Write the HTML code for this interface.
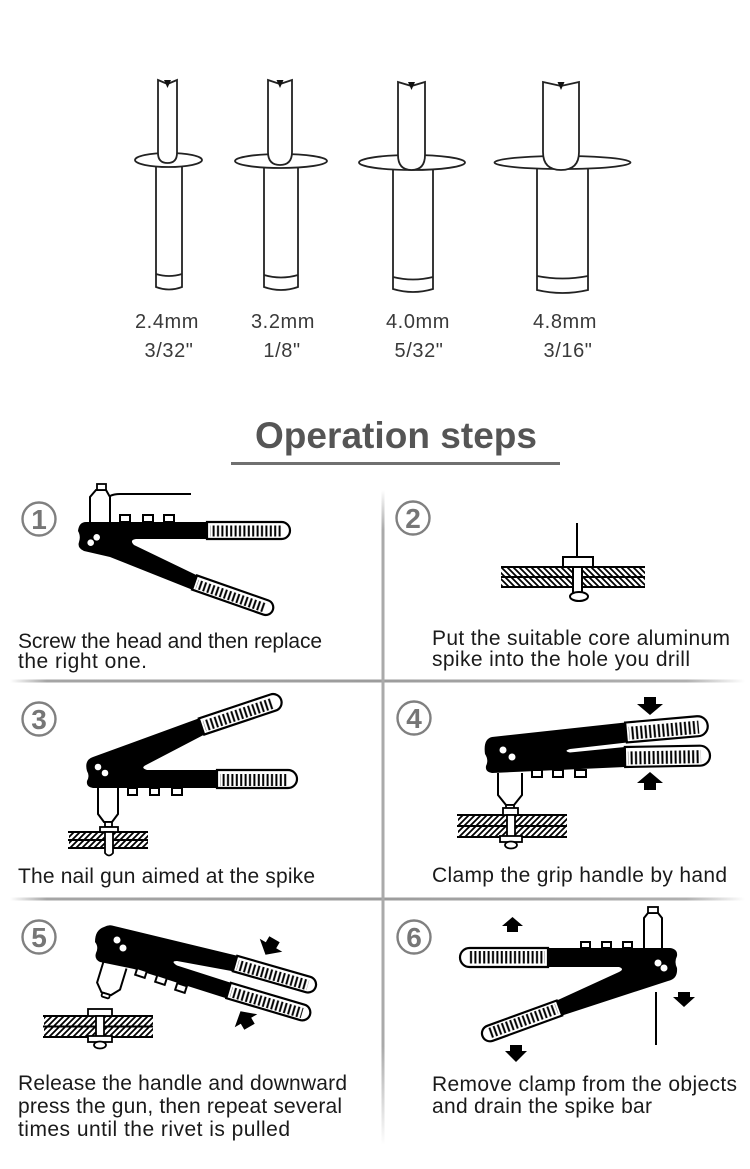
<!DOCTYPE html>
<html>
<head>
<meta charset="utf-8">
<style>
html,body{margin:0;padding:0;background:#fff;}
svg{display:block;}
.t{font-family:"Liberation Sans",Arial,sans-serif;font-size:21px;fill:#1a1a1a;}
.lab{font-family:"Liberation Sans",Arial,sans-serif;font-size:20px;fill:#3a3a3a;letter-spacing:0.6px;}
.num{font-family:"Liberation Sans",Arial,sans-serif;font-size:28px;font-weight:bold;fill:#767676;}
</style>
</head>
<body>
<svg width="750" height="1169" viewBox="0 0 750 1169" xmlns="http://www.w3.org/2000/svg">
<defs>
  <pattern id="vh" patternUnits="userSpaceOnUse" width="4.4" height="40">
    <rect x="1.2" y="0" width="2" height="40" fill="#000"/>
  </pattern>
  <pattern id="fw" patternUnits="userSpaceOnUse" width="6" height="6">
    <path d="M-1,1 L1,-1 M0,6 L6,0 M5,7 L7,5" stroke="#000" stroke-width="1.8"/>
  </pattern>
  <pattern id="bw" patternUnits="userSpaceOnUse" width="6" height="6">
    <path d="M-1,5 L1,7 M0,0 L6,6 M5,-1 L7,1" stroke="#000" stroke-width="1.8"/>
  </pattern>
  <linearGradient id="hg" x1="0" y1="0" x2="1" y2="0">
    <stop offset="0" stop-color="#fff"/>
    <stop offset="0.05" stop-color="#a5a5a5"/>
    <stop offset="0.5" stop-color="#9c9c9c"/>
    <stop offset="0.92" stop-color="#b0b0b0"/>
    <stop offset="1" stop-color="#fff"/>
  </linearGradient>
  <linearGradient id="vg" x1="0" y1="0" x2="0" y2="1">
    <stop offset="0" stop-color="#fff"/>
    <stop offset="0.06" stop-color="#aaa"/>
    <stop offset="0.85" stop-color="#aaa"/>
    <stop offset="1" stop-color="#fff"/>
  </linearGradient>
</defs>

<!-- ===== RIVETS ===== -->
<g stroke="#222" stroke-width="1.8" fill="#fff">
  <path d="M156,167 V287 Q169,292 182,287 V167"/>
  <path d="M156,274 Q169,278 182,274" fill="none"/>
  <ellipse cx="168.5" cy="160" rx="33.5" ry="7"/>
  <path d="M158,80 L167.5,84 L177,80 V153 Q177,163 167.5,163 Q158,163 158,153 Z"/>
  <path d="M264,168 V287 Q281,293 298,287 V168"/>
  <path d="M264,275 Q281,280 298,275" fill="none"/>
  <ellipse cx="281" cy="161" rx="46" ry="7"/>
  <path d="M268,80 L280,84 L292,80 V152 Q292,165 280,165 Q268,165 268,152 Z"/>
  <path d="M393,170 V289 Q413,295 433,289 V170"/>
  <path d="M393,277 Q413,282 433,277" fill="none"/>
  <ellipse cx="412" cy="162.5" rx="53" ry="7.5"/>
  <path d="M398,82 L411.5,86 L425,82 V155 Q425,170 411.5,170 Q398,170 398,155 Z"/>
  <path d="M537,169 V290 Q562.5,296 588,290 V169"/>
  <path d="M537,276 Q562.5,281 588,276" fill="none"/>
  <ellipse cx="562.5" cy="162.5" rx="68" ry="6.5"/>
  <path d="M543,82 L561,86 L579,82 V152 Q579,170 561,170 Q543,170 543,152 Z"/>
</g>
<g fill="#111">
  <path d="M164,80 L171,80 L167.5,88 Z"/>
  <path d="M276.5,80 L283.5,80 L280,88 Z"/>
  <path d="M408,82 L415,82 L411.5,90 Z"/>
  <path d="M557.5,82 L564.5,82 L561,90 Z"/>
</g>
<g class="lab" text-anchor="middle">
  <text x="167" y="328">2.4mm</text><text x="169" y="357">3/32"</text>
  <text x="283" y="328">3.2mm</text><text x="282" y="357">1/8"</text>
  <text x="418" y="328">4.0mm</text><text x="419" y="357">5/32"</text>
  <text x="565" y="328">4.8mm</text><text x="568" y="357">3/16"</text>
</g>

<!-- ===== TITLE ===== -->
<text x="255" y="448" font-family="Liberation Sans, Arial, sans-serif" font-size="37" font-weight="bold" fill="#555" textLength="282">Operation steps</text>
<rect x="231" y="462" width="329" height="3" fill="#707070"/>

<!-- ===== DIVIDERS ===== -->
<rect x="10" y="679.5" width="735" height="3" fill="url(#hg)"/>
<rect x="10" y="897.5" width="735" height="3" fill="url(#hg)"/>
<rect x="381.5" y="490" width="3" height="655" fill="url(#vg)"/>

<!-- ===== CIRCLED NUMBERS ===== -->
<g fill="none" stroke="#808080" stroke-width="2.4">
  <circle cx="39" cy="519" r="16.5"/>
  <circle cx="413" cy="518" r="16.5"/>
  <circle cx="39" cy="719" r="16.5"/>
  <circle cx="414" cy="718" r="16.5"/>
  <circle cx="39" cy="937" r="16.5"/>
  <circle cx="414" cy="937" r="16.5"/>
</g>
<g class="num" text-anchor="middle">
  <text x="39" y="529">1</text>
  <text x="413" y="528">2</text>
  <text x="39" y="729">3</text>
  <text x="414" y="728">4</text>
  <text x="39" y="947">5</text>
  <text x="414" y="947">6</text>
</g>

<!-- ===== STEP 1 ===== -->
<path d="M110,496 Q114,494 120,494 H191" fill="none" stroke="#000" stroke-width="2"/>
<path d="M90,522 V497 L96,490 H106 L110,497 V522" fill="#fff" stroke="#000" stroke-width="2"/>
<rect x="97" y="484" width="9" height="6" fill="#fff" stroke="#000" stroke-width="1.8"/>
<path d="M86,522 L207,522 L207,539 L136,539 Q129,540 134,545 L197,575.4 L192,589.6 L110,557 L84,551 Q77,548 79,542 Q81,536 78,531 Q79,522 86,522 Z" fill="#000"/>
<g fill="#fff" stroke="#000" stroke-width="2">
  <rect x="120" y="515" width="10" height="7"/>
  <rect x="143" y="515" width="10" height="7"/>
  <rect x="164" y="515" width="10" height="7"/>
</g>
<circle cx="96.7" cy="537.3" r="3.3" fill="#fff"/>
<circle cx="90.7" cy="542.7" r="3.3" fill="#fff"/>
<g transform="translate(207,530.5)">
  <path d="M0,-8.5 H74.5 A8.5,8.5 0 0 1 74.5,8.5 H0 Z" fill="#fff" stroke="#000" stroke-width="2.2"/>
  <rect x="3" y="-5" width="72" height="11" fill="url(#vh)"/>
</g>
<g transform="translate(194.5,582.5) rotate(19.3)">
  <path d="M0,-7.5 H75.5 A7.5,7.5 0 0 1 75.5,7.5 H0 Z" fill="#fff" stroke="#000" stroke-width="2.2"/>
  <rect x="3" y="-4" width="72" height="9.5" fill="url(#vh)"/>
</g>
<text class="t" x="18" y="648" textLength="304">Screw the head and then replace</text>
<text class="t" x="18" y="668" textLength="129">the right one.</text>

<!-- ===== STEP 2 ===== -->
<line x1="577" y1="523" x2="577" y2="557" stroke="#000" stroke-width="2"/>
<rect x="501" y="568" width="144" height="18" fill="url(#bw)"/>
<g stroke="#000" stroke-width="2">
  <line x1="501" y1="567" x2="645" y2="567"/>
  <line x1="501" y1="577" x2="645" y2="577"/>
  <line x1="501" y1="587" x2="645" y2="587"/>
</g>
<rect x="563" y="557" width="30" height="10" fill="#fff" stroke="#000" stroke-width="2"/>
<rect x="573" y="567" width="9" height="26" fill="#fff" stroke="#000" stroke-width="2"/>
<ellipse cx="579" cy="596.5" rx="9" ry="4.5" fill="#fff" stroke="#000" stroke-width="2"/>
<text class="t" x="432" y="645" textLength="298">Put the suitable core aluminum</text>
<text class="t" x="432" y="666" textLength="258">spike into the hole you drill</text>

<!-- ===== STEP 3 ===== -->
<path d="M93,757 L198.8,718.4 L204.2,734.6 L146,765 Q140,768 147,770 L217,770 L217,788 L93,788 Q86,787 87,781 Q90,776 87,771 Q84,760 93,757 Z" fill="#000"/>
<g fill="#fff" stroke="#000" stroke-width="2">
  <rect x="128" y="788" width="9" height="7"/>
  <rect x="150" y="788" width="9" height="7"/>
  <rect x="172" y="788" width="10" height="7"/>
</g>
<circle cx="98" cy="767" r="3.3" fill="#fff"/>
<circle cx="105" cy="773" r="3.3" fill="#fff"/>
<g transform="translate(201.5,726.5) rotate(-18.5)">
  <path d="M0,-8.5 H75.5 A8.5,8.5 0 0 1 75.5,8.5 H0 Z" fill="#fff" stroke="#000" stroke-width="2.2"/>
  <rect x="3" y="-5" width="72" height="11" fill="url(#vh)"/>
</g>
<g transform="translate(217,779)">
  <path d="M0,-9 H71 A9,9 0 0 1 71,9 H0 Z" fill="#fff" stroke="#000" stroke-width="2.2"/>
  <rect x="3" y="-5" width="68" height="12" fill="url(#vh)"/>
</g>
<path d="M98,788 V814 L104,822 H112 L118,814 V788" fill="#fff" stroke="#000" stroke-width="2"/>
<rect x="105" y="822" width="7" height="5" fill="#fff" stroke="#000" stroke-width="1.8"/>
<rect x="69" y="833" width="79" height="14" fill="url(#fw)"/>
<g stroke="#000" stroke-width="2">
  <line x1="68" y1="832" x2="148" y2="832"/>
  <line x1="68" y1="840" x2="148" y2="840"/>
  <line x1="68" y1="848" x2="148" y2="848"/>
</g>
<rect x="100" y="827" width="18" height="5" fill="#fff" stroke="#000" stroke-width="1.8"/>
<path d="M105,832 V853 Q109,858 113,853 V832 Z" fill="#fff" stroke="#000" stroke-width="1.8"/>
<text class="t" x="18" y="883" textLength="297">The nail gun aimed at the spike</text>

<!-- ===== STEP 4 ===== -->
<path d="M492,737 L625.1,722.5 L626.9,742.5 L570,749 Q563,751 570,752.5 L624.8,747 L625.2,767 L492,773 Q485,772 486,766 Q489,760 485,754 Q483,739 492,737 Z" fill="#000"/>
<g fill="#fff" stroke="#000" stroke-width="2">
  <rect x="532" y="770" width="10" height="7"/>
  <rect x="553" y="770" width="10" height="7"/>
  <rect x="575" y="770" width="11" height="7"/>
</g>
<circle cx="503" cy="750" r="3.5" fill="#fff"/>
<circle cx="512" cy="757" r="3.5" fill="#fff"/>
<g transform="translate(626,732.5) rotate(-5)">
  <path d="M0,-10 H72 A10,10 0 0 1 72,10 H0 Z" fill="#fff" stroke="#000" stroke-width="2.2"/>
  <rect x="3" y="-5.5" width="70" height="13" fill="url(#vh)"/>
</g>
<g transform="translate(625,757) rotate(-1)">
  <path d="M0,-10 H75 A10,10 0 0 1 75,10 H0 Z" fill="#fff" stroke="#000" stroke-width="2.2"/>
  <rect x="3" y="-5.5" width="73" height="13" fill="url(#vh)"/>
</g>
<path d="M498,773 V795 L506,805 H514 L522,795 V773" fill="#fff" stroke="#000" stroke-width="2"/>
<rect x="506" y="805" width="8" height="4" fill="#fff" stroke="#000" stroke-width="1.8"/>
<rect x="458" y="816" width="109" height="20" fill="url(#fw)"/>
<g stroke="#000" stroke-width="2">
  <line x1="457" y1="815" x2="567" y2="815"/>
  <line x1="457" y1="826" x2="567" y2="826"/>
  <line x1="457" y1="837" x2="567" y2="837"/>
</g>
<rect x="503" y="808" width="15" height="7" fill="#fff" stroke="#000" stroke-width="1.8"/>
<rect x="507" y="815" width="8" height="22" fill="#fff" stroke="#000" stroke-width="1.8"/>
<rect x="500" y="836" width="22" height="6" fill="#fff" stroke="#000" stroke-width="1.8"/>
<ellipse cx="511" cy="845" rx="6" ry="3.5" fill="#fff" stroke="#000" stroke-width="1.8"/>
<polygon points="644,697 656,697 656,704 663,704 650,715 637,704 644,704" fill="#000"/>
<polygon points="650,772 663,783 656,783 656,790 644,790 644,783 637,783" fill="#000"/>
<text class="t" x="432" y="882" textLength="295">Clamp the grip handle by hand</text>

<!-- ===== STEP 5 ===== -->
<g transform="translate(115,965) rotate(17)">
  <path d="M-12,0 V22 L-5,30 H5 L12,22 V0" fill="#fff" stroke="#000" stroke-width="2"/>
  <rect x="-4" y="30" width="8" height="4" rx="1.5" fill="#fff" stroke="#000" stroke-width="1.8"/>
</g>
<path d="M104,927 Q109,924 114,926 L237.2,955.8 L232.8,971.2 L177,961 Q170,961 177,965.5 L230.8,982.8 L226.2,998.2 L134,969 L100,962 Q94,959 96,953 Q99,947 95,942 Q95,930 104,927 Z" fill="#000"/>
<g fill="#fff" stroke="#000" stroke-width="2">
  <rect x="136" y="969.5" width="10" height="7" transform="rotate(18 141 973)"/>
  <rect x="156" y="976.5" width="10" height="7" transform="rotate(18 161 980)"/>
  <rect x="176" y="984.5" width="10" height="7" transform="rotate(18 181 988)"/>
</g>
<circle cx="117" cy="940" r="3.5" fill="#fff"/>
<circle cx="123" cy="948" r="3.5" fill="#fff"/>
<g transform="translate(235,963.5) rotate(16)">
  <path d="M0,-8 H76 A8,8 0 0 1 76,8 H0 Z" fill="#fff" stroke="#000" stroke-width="2.2"/>
  <rect x="3" y="-4.5" width="73" height="10.5" fill="url(#vh)"/>
</g>
<g transform="translate(228.5,990.5) rotate(16.5)">
  <path d="M0,-8 H77 A8,8 0 0 1 77,8 H0 Z" fill="#fff" stroke="#000" stroke-width="2.2"/>
  <rect x="3" y="-4.5" width="74" height="10.5" fill="url(#vh)"/>
</g>
<rect x="44" y="1017" width="109" height="19" fill="url(#fw)"/>
<g stroke="#000" stroke-width="2">
  <line x1="43" y1="1016" x2="153" y2="1016"/>
  <line x1="43" y1="1026.5" x2="153" y2="1026.5"/>
  <line x1="43" y1="1037" x2="153" y2="1037"/>
</g>
<rect x="88" y="1009" width="24" height="7" fill="#fff" stroke="#000" stroke-width="1.8"/>
<rect x="96" y="1016" width="8" height="21" fill="#fff" stroke="#000" stroke-width="1.8"/>
<rect x="88" y="1036" width="24" height="6" fill="#fff" stroke="#000" stroke-width="1.8"/>
<ellipse cx="100" cy="1045" rx="6" ry="3.5" fill="#fff" stroke="#000" stroke-width="1.8"/>
<polygon transform="translate(270,947) rotate(30)" points="-6,-9 6,-9 6,-2 13,-2 0,9 -13,-2 -6,-2" fill="#000"/>
<polygon transform="translate(245,1019) rotate(-30)" points="0,-9 13,2 6,2 6,9 -6,9 -6,2 -13,2" fill="#000"/>
<text class="t" x="18" y="1090" textLength="329">Release the handle and downward</text>
<text class="t" x="18" y="1113" textLength="324">press the gun, then repeat several</text>
<text class="t" x="18" y="1136" textLength="272">times until the rivet is pulled</text>

<!-- ===== STEP 6 ===== -->
<path d="M644,948 V918 L648,913 H658 L662,918 V948" fill="#fff" stroke="#000" stroke-width="2"/>
<rect x="648" y="907" width="10" height="6" fill="#fff" stroke="#000" stroke-width="1.8"/>
<path d="M548,948 L670,948 Q678,949 677,956 Q674,962 677,968 Q678,979 668,981 L562.2,1015.5 L556.8,1000.5 L619,972 Q625,969 619,967 L548,967 Z" fill="#000"/>
<g fill="#fff" stroke="#000" stroke-width="2">
  <rect x="581" y="942" width="9" height="6"/>
  <rect x="602" y="942" width="9" height="6"/>
  <rect x="623" y="942" width="9" height="6"/>
</g>
<circle cx="658" cy="963" r="3.5" fill="#fff"/>
<circle cx="664" cy="968" r="3.5" fill="#fff"/>
<g transform="translate(548,957.5) rotate(180)">
  <path d="M0,-9.5 H78.5 A9.5,9.5 0 0 1 78.5,9.5 H0 Z" fill="#fff" stroke="#000" stroke-width="2.2"/>
  <rect x="3" y="-6" width="76" height="12.5" fill="url(#vh)"/>
</g>
<g transform="translate(559.5,1008) rotate(160)">
  <path d="M0,-8 H74 A8,8 0 0 1 74,8 H0 Z" fill="#fff" stroke="#000" stroke-width="2.2"/>
  <rect x="3" y="-5" width="71" height="10.5" fill="url(#vh)"/>
</g>
<line x1="656" y1="992" x2="656" y2="1045" stroke="#000" stroke-width="2"/>
<polygon points="512.5,917 523,926 518,926 518,932 507,932 507,926 502,926" fill="#000"/>
<polygon points="510,1045 522,1045 522,1051 527,1051 516,1062 505,1051 510,1051" fill="#000"/>
<polygon points="678,992 690,992 690,997 695,997 684,1007 673,997 678,997" fill="#000"/>
<text class="t" x="432" y="1091" textLength="305">Remove clamp from the objects</text>
<text class="t" x="432" y="1113" textLength="220">and drain the spike bar</text>
</svg>
</body>
</html>
